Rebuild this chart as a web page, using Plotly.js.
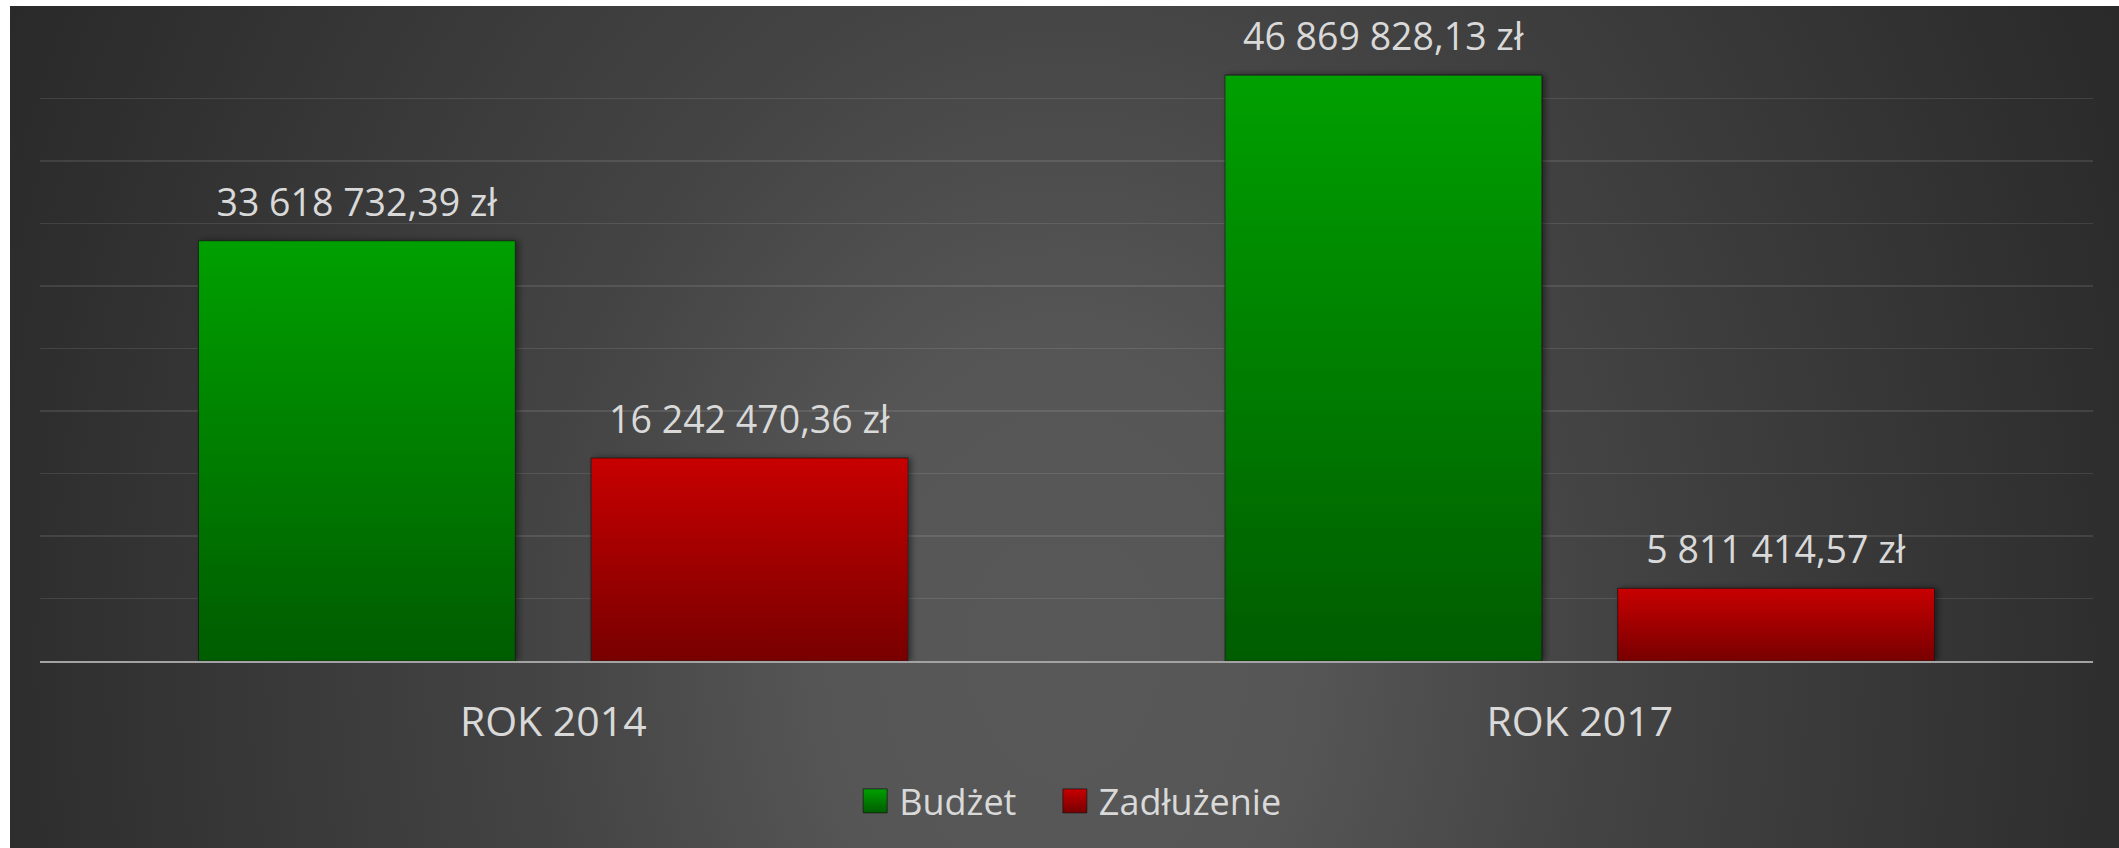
<!DOCTYPE html>
<html><head><meta charset="utf-8">
<script src="https://cdn.plot.ly/plotly-3.0.1.min.js"></script>
<style>
html,body{margin:0;padding:0;background:#fff;width:2119px;height:848px;overflow:hidden}
#bg{position:absolute;left:10px;top:6px;width:2109px;height:842px;
background:radial-gradient(ellipse 1160px 1500px at 1054px 646px,#585858 0%,#565656 20%,#444444 45%,#2e2e2e 90%,#2a2a2a 100%)}
#chart{position:absolute;left:0;top:0;width:2119px;height:848px}
</style></head><body><div id="bg"></div><div id="chart"></div>
<script>
const categories = ['ROK 2014', 'ROK 2017'];
const budzet = [33618732.39, 46869828.13];
const zadluzenie = [16242470.36, 5811414.57];
const seriesNames = ['Budżet\u00a0\u00a0\u00a0\u00a0', 'Zadłużenie'];
const seriesColors = ['#008000', '#a00000'];
const gradStops = [['#00a000', '#005c00'], ['#c80000', '#780000']];

const FONT = 'Open Sans, Noto Sans, sans-serif';
const TXT = '#d9d9d9';

const traces = [budzet, zadluzenie].map((vals, i) => ({
  type: 'bar',
  name: seriesNames[i],
  x: categories,
  y: vals,
  marker: {color: seriesColors[i], line: {color: 'rgba(20,20,20,0.7)', width: 1}},
  texttemplate: '%{y:,.2f} zł',
  textposition: 'outside',
  cliponaxis: false,
  textfont: {family: FONT, size: 37.5, color: TXT},
  hoverinfo: 'none'
}));

const layout = {
  width: 2119, height: 848,
  margin: {l: 40, r: 26, t: 36, b: 187, pad: 0},
  paper_bgcolor: 'rgba(0,0,0,0)',
  plot_bgcolor: 'rgba(0,0,0,0)',
  separators: ', ',
  barmode: 'group',
  bargap: 0.235,
  bargroupgap: 0.193,
  font: {family: FONT, color: TXT},
  xaxis: {
    showline: true, linecolor: '#a3a3a3', linewidth: 2,
    ticks: '', showgrid: false, zeroline: false,
    tickfont: {family: FONT, size: 41, color: TXT},
    ticklabelstandoff: 24
  },
  yaxis: {
    range: [0, 50000000], dtick: 5000000, tick0: 0,
    showticklabels: false, ticks: '', zeroline: false,
    gridcolor: 'rgba(255,255,255,0.1)', gridwidth: 1.5,
    showline: false
  },
  legend: {
    orientation: 'h', x: 0.503, xanchor: 'center', y: -0.224, yanchor: 'middle',
    font: {family: FONT, size: 36, color: TXT},
    bgcolor: 'rgba(0,0,0,0)', itemclick: false, itemdoubleclick: false
  },
  showlegend: true
};

Plotly.newPlot('chart', traces, layout, {staticPlot: true, displayModeBar: false}).then(gd => {
  const NS = 'http://www.w3.org/2000/svg';
  const svg = gd.querySelector('svg.main-svg');
  let defs = svg.querySelector('defs');
  if (!defs) { defs = document.createElementNS(NS, 'defs'); svg.insertBefore(defs, svg.firstChild); }
  gradStops.forEach((st, i) => {
    const lg = document.createElementNS(NS, 'linearGradient');
    lg.setAttribute('id', 'grad' + i);
    lg.setAttribute('x1', '0'); lg.setAttribute('y1', '0');
    lg.setAttribute('x2', '0'); lg.setAttribute('y2', '1');
    [[0, st[0]], [1, st[1]]].forEach(([o, c]) => {
      const s = document.createElementNS(NS, 'stop');
      s.setAttribute('offset', o); s.setAttribute('stop-color', c);
      lg.appendChild(s);
    });
    defs.appendChild(lg);
  });
  const f = document.createElementNS(NS, 'filter');
  f.setAttribute('id', 'barshadow');
  f.setAttribute('x', '-10%'); f.setAttribute('y', '-10%');
  f.setAttribute('width', '120%'); f.setAttribute('height', '120%');
  const ds = document.createElementNS(NS, 'feDropShadow');
  ds.setAttribute('dx', '3'); ds.setAttribute('dy', '0');
  ds.setAttribute('stdDeviation', '3');
  ds.setAttribute('flood-color', '#000'); ds.setAttribute('flood-opacity', '0.45');
  f.appendChild(ds); defs.appendChild(f);

  gd.querySelectorAll('.barlayer .trace').forEach((tr, i) => {
    tr.querySelectorAll('.point path').forEach(p => {
      p.style.fill = 'url(#grad' + i + ')';
      p.setAttribute('filter', 'url(#barshadow)');
    });
    tr.querySelectorAll('.point text').forEach(t => {
      const tf = t.getAttribute('transform') || '';
      t.setAttribute('transform', tf + ' translate(0,-11)');
    });
  });
  gd.querySelectorAll('.legend .traces').forEach((tr, i) => {
    tr.querySelectorAll('.legendpoints path').forEach(p => {
      p.setAttribute('d', 'M8,12H-16V-12H8Z');
      p.style.fill = 'url(#grad' + i + ')';
    });
  });
});
</script>
</body></html>
